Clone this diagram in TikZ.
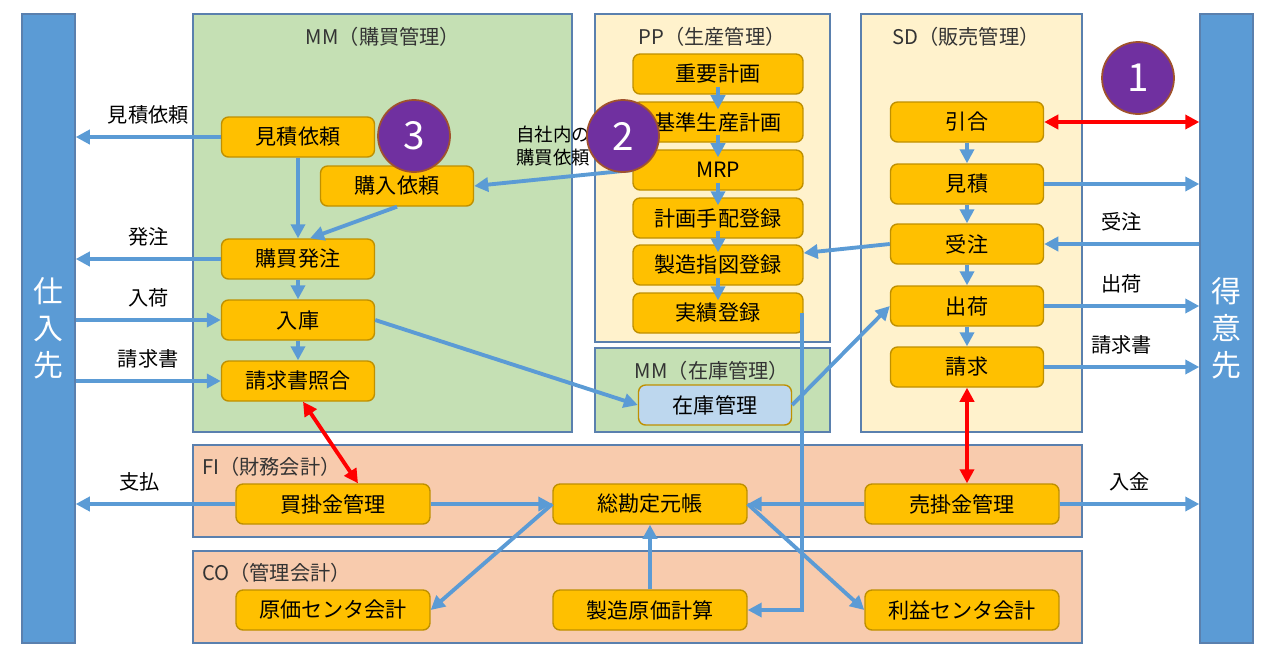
\documentclass[tikz,border=0pt]{standalone}
\usepackage{fontspec}
\setmainfont{Noto Sans CJK JP}
\usepackage{tikz}
\usetikzlibrary{positioning, arrows.meta}
\definecolor{barblue}{HTML}{5B9BD5}
\definecolor{frameblue}{HTML}{5A80AE}
\definecolor{mmgreen}{HTML}{C5E0B4}
\definecolor{ppyellow}{HTML}{FFF2CC}
\definecolor{fipeach}{HTML}{F8CBAD}
\definecolor{taskfill}{HTML}{FFC000}
\definecolor{taskedge}{HTML}{BF9000}
\definecolor{stockblue}{HTML}{BDD7EE}
\definecolor{numpurple}{HTML}{7030A0}
\definecolor{numedge}{HTML}{A0522D}

\tikzset{
  modbox/.style={draw=frameblue, line width=1.1pt},
  modtitle/.style={font=\fontsize{11.5}{13}\selectfont, text=black!80},
  task/.style={draw=taskedge, fill=taskfill, line width=0.8pt, rounded corners=4pt,
    minimum width=3.06cm, minimum height=0.8cm, inner sep=0pt,
    font=\fontsize{12}{14}\selectfont},
  partner/.style={draw=frameblue, fill=barblue, line width=0.8pt, minimum width=1.06cm,
    minimum height=12.58cm, inner sep=0pt, text=white, align=center,
    font=\fontsize{17}{21}\selectfont},
  flow/.style={draw=barblue, line width=2.2pt, -{Triangle[length=8pt,width=8pt]}},
  chain/.style={flow, shorten <=-0.16cm, shorten >=-0.16cm},
  link/.style={draw=red, line width=2.2pt,
    {Triangle[length=8pt,width=8pt]}-{Triangle[length=8pt,width=8pt]}},
  lbl/.style={font=\fontsize{11.5}{13}\selectfont, above=3pt},
  num/.style={circle, fill=numpurple, draw=numedge, line width=1pt, minimum size=1.44cm,
    inner sep=0pt, text=white, font=\fontsize{22}{24}\selectfont}
}

\begin{document}
\begin{tikzpicture}[x=0.02cm, y=-0.02cm]
\useasboundingbox (0,0) rectangle (1271,653);

% module frames
\fill[mmgreen] (193,14) rectangle (572,432);
\draw[modbox] (193,14) rectangle (572,432);
\fill[ppyellow] (595,14) rectangle (830,342);
\draw[modbox] (595,14) rectangle (830,342);
\fill[mmgreen] (595,348) rectangle (830,432);
\draw[modbox] (595,348) rectangle (830,432);
\fill[ppyellow] (861,14) rectangle (1082,432);
\draw[modbox] (861,14) rectangle (1082,432);
\fill[fipeach] (193,445) rectangle (1082,537);
\draw[modbox] (193,445) rectangle (1082,537);
\fill[fipeach] (193,551) rectangle (1082,643);
\draw[modbox] (193,551) rectangle (1082,643);

\node[modtitle] (tmm) at (383,37) {MM（購買管理）};
\node[modtitle] (tpp) at (712,37) {PP（生産管理）};
\node[modtitle] (tsd) at (966,37) {SD（販売管理）};
\node[modtitle] (tst) at (712,371) {MM（在庫管理）};
\node[modtitle, anchor=west] (tfi) at (196,467) {FI（財務会計）};
\node[modtitle, anchor=west] (tco) at (196,573) {CO（管理会計）};

% partners
\node[partner] (shiire) at (48.5,328.5) {仕\\入\\先};
\node[partner] (tokui) at (1226.5,328.5) {得\\意\\先};

% MM
\node[task] (irai) at (298,137) {見積依頼};
\node[task] (konyu) at (397,186) {購入依頼};
\node[task] (hatchu) at (298,259) {購買発注};
\node[task] (nyuko) at (298,320) {入庫};
\node[task] (shogo) at (298,381) {請求書照合};

% PP
\node[task, minimum width=3.4cm] (juyo) at (718,74) {重要計画};
\node[task, minimum width=3.4cm] (kijun) at (718,122) {基準生産計画};
\node[task, minimum width=3.4cm] (mrp) at (718,170) {MRP};
\node[task, minimum width=3.4cm] (tehai) at (718,218) {計画手配登録};
\node[task, minimum width=3.4cm] (sashizu) at (718,265) {製造指図登録};
\node[task, minimum width=3.4cm] (jisseki) at (718,313) {実績登録};
\node[task, fill=stockblue] (zaiko) at (715,405) {在庫管理};

% SD
\node[task] (hikiai) at (967,122) {引合};
\node[task] (mitsu) at (967,184) {見積};
\node[task] (juchu) at (967,244) {受注};
\node[task] (shukka) at (967,306) {出荷};
\node[task] (seikyu) at (967,367) {請求};

% FI / CO
\node[task, minimum width=3.88cm] (kaikake) at (333,504) {買掛金管理};
\node[task, minimum width=3.88cm] (soukan) at (650,504) {総勘定元帳};
\node[task, minimum width=3.88cm] (urikake) at (962,504) {売掛金管理};
\node[task, minimum width=3.88cm] (cctr) at (333,610) {原価センタ会計};
\node[task, minimum width=3.88cm] (genka) at (650,610) {製造原価計算};
\node[task, minimum width=3.88cm] (pctr) at (962,610) {利益センタ会計};

% supplier side
\draw[flow] (irai.west) -- (shiire.east |- irai.west) node[lbl, midway] {見積依頼};
\draw[flow] (hatchu.west) -- (shiire.east |- hatchu.west) node[lbl, midway] {発注};
\draw[flow] (shiire.east |- nyuko.west) -- (nyuko.west) node[lbl, midway] {入荷};
\draw[flow] (shiire.east |- shogo.west) -- (shogo.west) node[lbl, midway] {請求書};
\draw[flow] (kaikake.west) -- (shiire.east |- kaikake.west) node[lbl, pos=0.6] {支払};

% purchasing
\draw[flow] (irai.south) -- (hatchu.north);
\draw[flow] (konyu.south) -- ([xshift=0.24cm]hatchu.north);
\draw[flow] (hatchu.south) -- (nyuko.north);
\draw[flow] (nyuko.south) -- (shogo.north);
\draw[flow] (nyuko.east) -- (zaiko.west);
\draw[flow] (mrp.west) -- (konyu.east);
\node[font=\fontsize{10.5}{13}\selectfont, align=center] (shanai) at (553,146) {自社内の\\購買依頼};

% production
\draw[chain] (juyo.south) -- (kijun.north);
\draw[chain] (kijun.south) -- (mrp.north);
\draw[chain] (mrp.south) -- (tehai.north);
\draw[chain] (tehai.south) -- (sashizu.north);
\draw[chain] (sashizu.south) -- (jisseki.north);
\draw[flow] ([xshift=-0.04cm]jisseki.east) |- (genka.east);
\draw[flow] (zaiko.east) -- (shukka.west);
\draw[flow] (juchu.west) -- ([yshift=0.24cm]sashizu.east);

% sales
\draw[flow] (hikiai.south) -- (mitsu.north);
\draw[flow] (mitsu.south) -- (juchu.north);
\draw[flow] (juchu.south) -- (shukka.north);
\draw[flow] (shukka.south) -- (seikyu.north);
\draw[link] (hikiai.east) -- (tokui.west |- hikiai.east);
\draw[flow] (mitsu.east) -- (tokui.west |- mitsu.east);
\draw[flow] (tokui.west |- juchu.east) -- (juchu.east) node[lbl, midway] {受注};
\draw[flow] (shukka.east) -- (tokui.west |- shukka.east) node[lbl, midway] {出荷};
\draw[flow] (seikyu.east) -- (tokui.west |- seikyu.east) node[lbl, midway] {請求書};
\draw[flow] (urikake.east) -- (tokui.west |- urikake.east) node[lbl, midway] {入金};

% accounting
\draw[link] ([xshift=0.1cm]shogo.south) -- ([xshift=0.5cm]kaikake.north);
\draw[link] (seikyu.south) -- (urikake.north -| seikyu.south);
\draw[flow] (kaikake.east) -- (soukan.west);
\draw[flow] (urikake.west) -- (soukan.east);
\draw[flow] (soukan.west) -- (cctr.east);
\draw[flow] (genka.north) -- (soukan.south);
\draw[flow] (soukan.east) -- (pctr.west);

% markers
\node[num] (n1) at (1138,78) {1};
\node[num] (n2) at (623,136) {2};
\node[num] (n3) at (414,136) {3};
\end{tikzpicture}
\end{document}
